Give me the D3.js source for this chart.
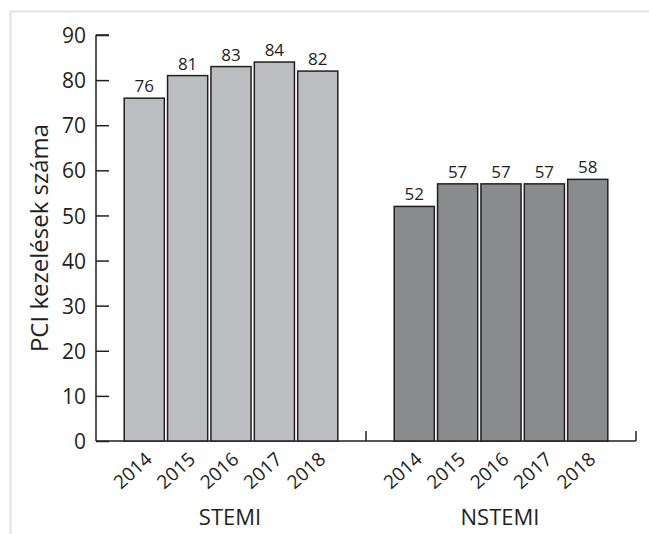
<!DOCTYPE html>
<html><head><meta charset="utf-8">
<script src="https://cdn.jsdelivr.net/npm/d3@7"></script>
<style>body{margin:0;background:#fff}svg{display:block}text{font-family:"Open Sans","Noto Sans",sans-serif;fill:#231f20}</style>
</head><body>
<script>
const groups = ["STEMI", "NSTEMI"];
const years = ["2014", "2015", "2016", "2017", "2018"];
const stemiValues = [76, 81, 83, 84, 82];
const nstemiValues = [52, 57, 57, 57, 58];
const yTicks = [0, 10, 20, 30, 40, 50, 60, 70, 80, 90];
const groupColors = ["#bcbdc1", "#8a8b8d"];
const yLabel = "PCI kezelések száma";

const W = 649, H = 534;
const svg = d3.select("body").append("svg").attr("width", W).attr("height", H);

// frame
svg.append("path").attr("d", "M10.5,534V11.5H649").attr("fill", "none").attr("stroke", "#e2e2e2").attr("stroke-width", 2);

const x0 = d3.scaleBand().domain(groups).range([96, 636]).paddingInner(0).paddingOuter(0);
const x1 = d3.scaleBand().domain(years).range([0, x0.bandwidth()]).paddingInner(0.075).paddingOuter(0.65);
const y = d3.scaleLinear().domain([0, 90]).range([441, 35]);

const data = [stemiValues, nstemiValues];

// y axis
const yAxis = svg.append("g").attr("transform", "translate(96,0)")
  .call(d3.axisLeft(y).tickValues(yTicks).tickSize(-13).tickPadding(10).tickFormat(d3.format("d")));
yAxis.select(".domain").attr("d", "M0," + y(90) + "H13M0," + y(90) + "V" + y(0)).attr("stroke", "#231f20").attr("stroke-width", 1.5);
yAxis.selectAll(".tick line").attr("stroke", "#231f20").attr("stroke-width", 1.5);
yAxis.selectAll(".tick text").attr("font-size", 21).attr("dy", "0.36em");

// x axis baseline + group ticks
svg.append("line").attr("x1", 96).attr("x2", 636).attr("y1", y(0)).attr("y2", y(0)).attr("stroke", "#231f20").attr("stroke-width", 1.5);
const gBounds = [x0.range()[0] + x0.bandwidth(), x0.range()[1]];
svg.selectAll(".gtick").data(gBounds).join("line")
  .attr("x1", d => d).attr("x2", d => d).attr("y1", y(0)).attr("y2", y(0) - 10)
  .attr("stroke", "#231f20").attr("stroke-width", 1.5);

// bars
groups.forEach((g, gi) => {
  const gx = x0(g);
  const vals = data[gi];
  const gg = svg.append("g").attr("transform", "translate(" + gx + ",0)");
  gg.selectAll("rect").data(vals).join("rect")
    .attr("x", (d, i) => x1(years[i]))
    .attr("y", d => y(d))
    .attr("width", x1.bandwidth())
    .attr("height", d => y(0) - y(d))
    .attr("fill", groupColors[gi]).attr("stroke", "#231f20").attr("stroke-width", 1.5);
  gg.selectAll("text.val").data(vals).join("text").attr("class", "val")
    .attr("x", (d, i) => x1(years[i]) + x1.bandwidth() / 2)
    .attr("y", d => y(d) - 6)
    .attr("text-anchor", "middle").attr("font-size", 17).text(d => d);
  gg.selectAll("text.yr").data(years).join("text").attr("class", "yr")
    .attr("text-anchor", "end").attr("font-size", 19)
    .attr("transform", d => "translate(" + (x1(d) + x1.bandwidth() / 2 + 9) + "," + (y(0) + 20) + ") rotate(-42)")
    .text(d => d);
  svg.append("text").attr("x", gx + x0.bandwidth() / 2 - 1).attr("y", 525)
    .attr("text-anchor", "middle").attr("font-size", 22).text(g);
});

// y label
svg.append("text").attr("transform", "translate(48," + ((y(0) + y(90)) / 2) + ") rotate(-90)")
  .attr("text-anchor", "middle").attr("font-size", 24).text(yLabel);
</script>
</body></html>
